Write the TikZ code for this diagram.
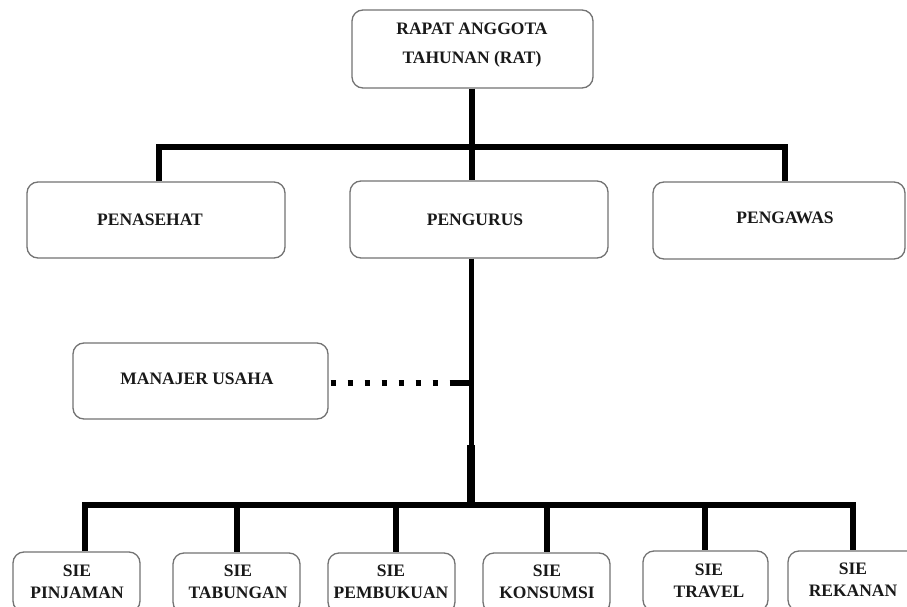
\documentclass[tikz,border=0pt]{standalone}
\usepackage{fontspec}
\setmainfont{Liberation Serif}
\begin{document}
\begin{tikzpicture}[x=1pt,y=-1pt,
  box/.style={draw=black!55, line width=1.3pt, rounded corners=11pt, inner sep=0pt, fill=white},
  txt/.style={font=\bfseries\fontsize{17.5}{22}\selectfont, align=center, inner sep=0pt, text=black!90},
  conn/.style={line width=6.5pt, line join=miter},
  thinconn/.style={line width=5pt},
  thickconn/.style={line width=8pt},
  dotconn/.style={line width=6pt, dash pattern=on 5pt off 12pt}
]
\useasboundingbox (0,0) rectangle (907,607);
\clip (0,0) rectangle (907,607);
\fill[white] (0,0) rectangle (907,607);

% coordinates of junctions
\coordinate (jl) at (159,147);
\coordinate (jm) at (472,147);
\coordinate (jr) at (785,147);
\coordinate (mv) at (471,445);
\coordinate (bm) at (471,505);
\coordinate (dj) at (455,383);
\coordinate (d1) at (85,505);
\coordinate (d2) at (237,505);
\coordinate (d3) at (396,505);
\coordinate (d4) at (547,505);
\coordinate (d5) at (705,505);
\coordinate (d6) at (853,505);

% boxes
\node[box, minimum width=241pt, minimum height=78pt] (rat) at (472.5,49) {};
\node[box, minimum width=258pt, minimum height=76pt] (pen) at (156,220) {};
\node[box, minimum width=258pt, minimum height=77pt] (urus) at (479,219.5) {};
\node[box, minimum width=252pt, minimum height=77pt] (awas) at (779,220.5) {};
\node[box, minimum width=255pt, minimum height=76pt] (man) at (200.5,381) {};
\node[box, minimum width=127pt, minimum height=60pt] (b1) at (76.5,582) {};
\node[box, minimum width=127pt, minimum height=60pt] (b2) at (236.5,583) {};
\node[box, minimum width=127pt, minimum height=60pt] (b3) at (391.5,583) {};
\node[box, minimum width=127pt, minimum height=60pt] (b4) at (546.5,583) {};
\node[box, minimum width=125pt, minimum height=60pt] (b5) at (705.5,581) {};
\node[box, minimum width=130pt, minimum height=60pt] (b6) at (853,581) {};

% texts
\node[txt, font=\bfseries\fontsize{17.5}{29}\selectfont] (ratt) at (472,45.5) {RAPAT ANGGOTA\\TAHUNAN (RAT)};
\node[txt] (pent) at (150,220) {PENASEHAT};
\node[txt] (urust) at (475,220) {PENGURUS};
\node[txt] (awast) at (785,218) {PENGAWAS};
\node[txt] (mant) at (197,379) {MANAJER USAHA};
\node[txt] (b1t) at (77,582) {SIE\\PINJAMAN};
\node[txt] (b2t) at (238,582) {SIE\\TABUNGAN};
\node[txt] (b3t) at (391,582) {SIE\\PEMBUKUAN};
\node[txt] (b4t) at (547,582) {SIE\\KONSUMSI};
\node[txt] (b5t) at (709,581) {SIE\\TRAVEL};
\node[txt] (b6t) at (853,580) {SIE\\REKANAN};

% connectors
\draw[conn] (rat.south -| jm) -- (jm) -- (urus.north -| jm);
\draw[conn] (pen.north -| jl) -- (jl) -- (jr) -- (awas.north -| jr);
\draw[thinconn] (urus.south -| mv) -- (mv);
\draw[thickconn] (mv) -- (bm);
\draw[conn] (b1.north -| d1) -- (d1) -- (d6) -- (b6.north -| d6);
\draw[conn] (d2) -- (b2.north -| d2);
\draw[conn] (d3) -- (b3.north -| d3);
\draw[conn] (d4) -- (b4.north -| d4);
\draw[conn] (d5) -- (b5.north -| d5);
\draw[dotconn] (man.east |- dj) ++(2,0) -- (dj);
\draw[line width=6pt] (dj) -- (dj -| mv);
\end{tikzpicture}
\end{document}
